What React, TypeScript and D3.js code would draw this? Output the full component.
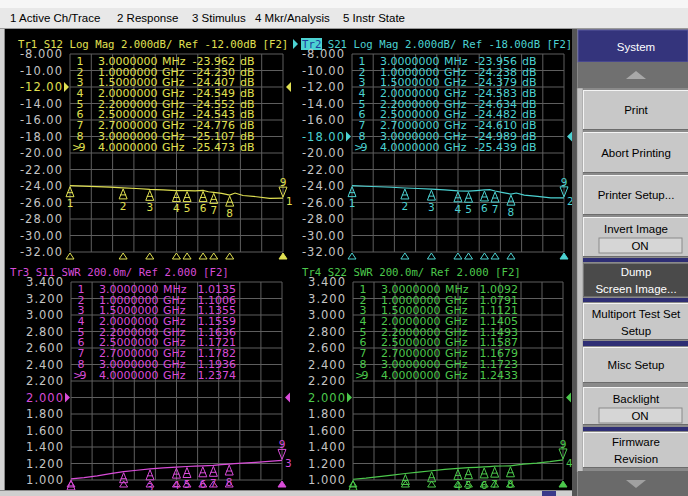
import * as d3 from "d3";
import { useEffect } from "react";

const W = 688;
const H = 496;

// menu bar
const menuItems = ["1 Active Ch/Trace", "2 Response", "3 Stimulus", "4 Mkr/Analysis", "5 Instr State"];

// markers (GHz) as listed in the marker tables
const markerFreq = [0.003, 1.0, 1.5, 2.0, 2.2, 2.5, 2.7, 3.0, 4.0];
const markerFreqText = ["3.0000000", "1.0000000", "1.5000000", "2.0000000", "2.2000000", "2.5000000", "2.7000000", "3.0000000", "4.0000000"];
const markerUnit = ["MHz", "GHz", "GHz", "GHz", "GHz", "GHz", "GHz", "GHz", "GHz"];

const tr1Markers = [-23.962, -24.23, -24.407, -24.549, -24.552, -24.543, -24.776, -25.107, -25.473];
const tr2Markers = [-23.956, -24.238, -24.379, -24.583, -24.634, -24.482, -24.61, -24.989, -25.439];
const tr3Markers = [1.0135, 1.1006, 1.1355, 1.1559, 1.1636, 1.1721, 1.1782, 1.1936, 1.2374];
const tr4Markers = [1.0092, 1.0791, 1.1121, 1.1405, 1.1493, 1.1587, 1.1679, 1.1723, 1.2433];
const tr1MarkerText = ["-23.962", "-24.230", "-24.407", "-24.549", "-24.552", "-24.543", "-24.776", "-25.107", "-25.473"];
const tr2MarkerText = ["-23.956", "-24.238", "-24.379", "-24.583", "-24.634", "-24.482", "-24.610", "-24.989", "-25.439"];
const tr3MarkerText = ["1.0135", "1.1006", "1.1355", "1.1559", "1.1636", "1.1721", "1.1782", "1.1936", "1.2374"];
const tr4MarkerText = ["1.0092", "1.0791", "1.1121", "1.1405", "1.1493", "1.1587", "1.1679", "1.1723", "1.2433"];

// sweep points (GHz)
const traceFreq = [0.003, 0.25, 0.5, 0.75, 1.0, 1.25, 1.5, 1.75, 2.0, 2.2, 2.35, 2.5, 2.6, 2.7, 2.85, 3.0, 3.1, 3.25, 3.5, 3.75, 4.0];
const tr1Trace = [-23.96, -24.02, -24.08, -24.14, -24.23, -24.3, -24.41, -24.47, -24.55, -24.55, -24.6, -24.54, -24.7, -24.78, -24.9, -25.11, -24.85, -25.15, -25.3, -25.5, -25.47];
const tr2Trace = [-23.96, -24.03, -24.09, -24.15, -24.24, -24.3, -24.38, -24.48, -24.58, -24.63, -24.55, -24.48, -24.45, -24.61, -24.8, -24.99, -24.85, -25.1, -25.25, -25.45, -25.44];
const tr3Trace = [1.0135, 1.028, 1.05, 1.077, 1.1006, 1.118, 1.1355, 1.146, 1.1559, 1.1636, 1.168, 1.1721, 1.175, 1.1782, 1.186, 1.1936, 1.198, 1.205, 1.214, 1.226, 1.2374];
const tr4Trace = [1.0092, 1.022, 1.04, 1.06, 1.0791, 1.096, 1.1121, 1.128, 1.1405, 1.1493, 1.154, 1.1587, 1.163, 1.1679, 1.17, 1.1723, 1.18, 1.192, 1.205, 1.222, 1.2433];

// y tick labels
const logMagTicks = ["-8.000", "-10.00", "-12.00", "-14.00", "-16.00", "-18.00", "-20.00", "-22.00", "-24.00", "-26.00", "-28.00", "-30.00", "-32.00"];
const swrTicks = ["3.400", "3.200", "3.000", "2.800", "2.600", "2.400", "2.200", "2.000", "1.800", "1.600", "1.400", "1.200", "1.000"];

// softkeys
const softkeyLabels = [["Print"], ["Abort Printing"], ["Printer Setup..."], ["Invert Image"], ["Dump", "Screen Image..."], ["Multiport Test Set", "Setup"], ["Misc Setup"], ["Backlight"], ["Firmware", "Revision"]];
const softkeyToggle = ["", "", "", "ON", "", "", "", "ON", ""];

const MONO = "'DejaVu Sans Mono', monospace";
const SANS = "'DejaVu Sans', sans-serif";
const UI = "'Liberation Sans', Arial, sans-serif";
const GRID = "#5e5e5e";
const LABEL = "#c4c4c4";

type PanelCfg = {
  L: number; R: number; T: number; B: number;
  color: string; trNum: string; title: string; titleX: number; active: boolean;
  ticks: string[]; refLabel: string; trace: number[]; markers: number[]; markerText: string[]; db: boolean;
};

function Panel({ c }: { c: PanelCfg }) {
  const vals = c.ticks.map(Number);
  const x = d3.scaleLinear().domain([markerFreq[0], markerFreq[8]]).range([c.L, c.R]);
  const y = d3.scaleLinear().domain([vals[vals.length - 1], vals[0]]).range([c.B, c.T]);
  const line = d3.line<number>().x((_, i) => x(traceFreq[i])).y((v) => y(v));
  const xGrid = d3.range(11).map((i) => c.L + ((c.R - c.L) * i) / 10);
  const refY = y(+c.refLabel);
  const titleY = c.T - 10;
  return (
    <g>
      {/* title */}
      {c.active ? (
        <g>
          <path d={`M${c.titleX - 9},${titleY - 5} L${c.titleX - 4},${titleY} L${c.titleX - 9},${titleY + 5} Z`} fill={c.color} />
          <rect x={c.titleX - 1} y={titleY - 6} width={21} height={12} fill={c.color} />
          <text x={c.titleX} y={titleY} dy="0.36em" fontFamily={MONO} fontSize={10.7}>
            <tspan fill="#1c3c9c">Tr{c.trNum}</tspan>
            <tspan fill={c.color}>{" " + c.title}</tspan>
          </text>
        </g>
      ) : (
        <text x={c.titleX} y={titleY} dy="0.36em" fontFamily={MONO} fontSize={10.7} fill={c.color}>
          {`Tr${c.trNum} ${c.title}`}
        </text>
      )}
      {/* grid */}
      {vals.map((v, i) => (
        <line key={"h" + i} x1={c.L} x2={c.R} y1={y(v)} y2={y(v)} stroke={GRID} strokeWidth={1} />
      ))}
      {xGrid.map((gx, i) => (
        <line key={"v" + i} x1={gx} x2={gx} y1={c.T} y2={c.B} stroke={GRID} strokeWidth={1} />
      ))}
      {/* y labels */}
      {c.ticks.map((t, i) => (
        <text key={"t" + i} x={c.L - 7} y={y(vals[i])} dy="0.36em" textAnchor="end" fontFamily={SANS} fontSize={11.5}
          letterSpacing={1} fill={t === c.refLabel ? c.color : LABEL}>{t}</text>
      ))}
      {/* reference arrows */}
      <path d={`M${c.L - 6},${refY - 5} L${c.L - 1},${refY} L${c.L - 6},${refY + 5} Z`} fill={c.color} />
      <path d={`M${c.R + 8},${refY - 5} L${c.R + 3},${refY} L${c.R + 8},${refY + 5} Z`} fill={c.color} />
      {/* marker table */}
      {markerFreqText.map((f, i) => {
        const ry = c.T + 7 + i * 10.7;
        return (
          <g key={"m" + i} fontFamily={SANS} fontSize={11} fill={c.color}>
            {i === 8 && <text x={c.L + 2} y={ry} dy="0.36em">{">"}</text>}
            <text x={c.L + (i === 8 ? 12 : 10)} y={ry} dy="0.36em" textAnchor="middle">{i + 1}</text>
            <text x={c.L + 28} y={ry} dy="0.36em">{f}</text>
            <text x={c.L + 92} y={ry} dy="0.36em">{markerUnit[i]}</text>
            <text x={c.L + 165} y={ry} dy="0.36em" textAnchor="end">{c.markerText[i]}</text>
            {c.db && <text x={c.L + 170} y={ry} dy="0.36em">dB</text>}
          </g>
        );
      })}
      {/* trace */}
      <path d={line(c.trace) ?? ""} fill="none" stroke={c.color} strokeWidth={1.2} />
      {/* markers on trace */}
      {c.markers.map((v, i) => {
        const mx = x(markerFreq[i]);
        const my = y(v);
        if (i === 8) {
          return (
            <g key={"k" + i}>
              <path d={`M${mx},${my - 1} L${mx - 4},${my - 11} L${mx + 4},${my - 11} Z`} fill="none" stroke={c.color} />
              <text x={mx} y={my - 16} dy="0.36em" textAnchor="middle" fontFamily={SANS} fontSize={10.5} fill={c.color}>9</text>
              <text x={mx + 3} y={my + 3} dy="0.36em" fontFamily={SANS} fontSize={10.5} fill={c.color}>{c.trNum}</text>
            </g>
          );
        }
        return (
          <g key={"k" + i}>
            <path d={`M${mx},${my + 1} L${mx - 4},${my + 11} L${mx + 4},${my + 11} Z`} fill="none" stroke={c.color} />
            <line x1={mx - 3} x2={mx + 3} y1={my + 7} y2={my + 7} stroke={c.color} />
            {my + 18 < H - 8 && (
              <text x={mx} y={my + 18} dy="0.36em" textAnchor="middle" fontFamily={SANS} fontSize={10.5} fill={c.color}>{i + 1}</text>
            )}
          </g>
        );
      })}
      {/* stimulus markers under the grid */}
      {markerFreq.map((f, i) => {
        const mx = x(f);
        return (
          <path key={"b" + i} d={`M${mx},${c.B + 1} L${mx - 4},${c.B + 7} L${mx + 4},${c.B + 7} Z`}
            fill={i === 8 ? c.color : "none"} stroke={c.color} />
        );
      })}
    </g>
  );
}

const panels: PanelCfg[] = [
  { L: 70, R: 283, T: 54, B: 252, color: "#e0e052", trNum: "1", title: "S12 Log Mag 2.000dB/ Ref -12.00dB [F2]", titleX: 18, active: false,
    ticks: logMagTicks, refLabel: "-12.00", trace: tr1Trace, markers: tr1Markers, markerText: tr1MarkerText, db: true },
  { L: 352, R: 564, T: 54, B: 252, color: "#4cd2d2", trNum: "2", title: "S21 Log Mag 2.000dB/ Ref -18.00dB [F2]", titleX: 302, active: true,
    ticks: logMagTicks, refLabel: "-18.00", trace: tr2Trace, markers: tr2Markers, markerText: tr2MarkerText, db: true },
  { L: 71, R: 282, T: 282, B: 480, color: "#d84cd8", trNum: "3", title: "S11 SWR 200.0m/ Ref 2.000 [F2]", titleX: 10, active: false,
    ticks: swrTicks, refLabel: "2.000", trace: tr3Trace, markers: tr3Markers, markerText: tr3MarkerText, db: false },
  { L: 353, R: 563, T: 282, B: 480, color: "#4cc84c", trNum: "4", title: "S22 SWR 200.0m/ Ref 2.000 [F2]", titleX: 302, active: false,
    ticks: swrTicks, refLabel: "2.000", trace: tr4Trace, markers: tr4Markers, markerText: tr4MarkerText, db: false },
];

function Softkeys() {
  const tops = [90, 132, 175, 217, 263, 303, 347, 387, 432];
  const bottoms = [130, 173, 215, 257, 297, 340, 383, 425, 468];
  const navySeps = [[258, 262], [298, 302], [341, 346], [427, 431]];
  const kx = 583;
  const kw = W - kx;
  const cx = 636;
  return (
    <g fontFamily={UI} fontSize={11.5}>
      <rect x={572} y={29} width={W - 572} height={H - 29} fill="#8a8a8a" />
      <rect x={572} y={29} width={5} height={H - 29} fill="#555" />
      <rect x={577} y={88} width={6} height={384} fill="#c4c4c4" stroke="#777" strokeWidth={0.5} />
      {/* header */}
      <rect x={578} y={30} width={W - 578} height={32} fill="#34347c" stroke="#5a5aa0" />
      <text x={cx} y={47} dy="0.35em" textAnchor="middle" fill="#fff">System</text>
      <rect x={578} y={62} width={W - 578} height={26} fill="#707070" />
      <path d={`M${cx - 10},79 L${cx},71 L${cx + 10},79 Z`} fill="#a8a8a8" />
      {navySeps.map(([a, b], i) => (
        <rect key={"n" + i} x={kx} y={a} width={kw} height={b - a} fill="#2e2e74" />
      ))}
      {softkeyLabels.map((lines, i) => {
        const t = tops[i];
        const b = bottoms[i];
        const dark = i === 4;
        const mid = (t + b) / 2;
        const tog = softkeyToggle[i];
        return (
          <g key={"s" + i}>
            <rect x={kx} y={t} width={kw} height={b - t} fill={dark ? "#4a4a4a" : "#c8c8c8"} />
            <line x1={kx} x2={W} y1={t + 0.5} y2={t + 0.5} stroke={dark ? "#777" : "#f4f4f4"} />
            <line x1={kx + 0.5} x2={kx + 0.5} y1={t} y2={b} stroke={dark ? "#777" : "#f4f4f4"} />
            <line x1={kx} x2={W} y1={b - 0.5} y2={b - 0.5} stroke="#6c6c6c" />
            {tog ? (
              <g>
                <text x={cx} y={t + 12} dy="0.35em" textAnchor="middle" fill="#000">{lines[0]}</text>
                <rect x={599} y={t + 21} width={83} height={15} fill="#d6d6d6" stroke="#8a8a8a" />
                <text x={640} y={t + 28.5} dy="0.35em" textAnchor="middle" fill="#000">{tog}</text>
              </g>
            ) : lines.length === 1 ? (
              <text x={cx} y={mid} dy="0.35em" textAnchor="middle" fill={dark ? "#fff" : "#000"}>{lines[0]}</text>
            ) : (
              lines.map((s, j) => (
                <text key={j} x={cx} y={mid - 8 + j * 17} dy="0.35em" textAnchor="middle" fill={dark ? "#fff" : "#000"}>{s}</text>
              ))
            )}
          </g>
        );
      })}
      <rect x={578} y={471} width={W - 578} height={H - 471} fill="#6a6a6a" />
      <path d={`M${cx - 10},480 L${cx},488 L${cx + 10},480 Z`} fill="#a0a0a0" />
    </g>
  );
}

export default function App() {
  useEffect(() => {
    document.body.style.margin = "0";
  }, []);
  const menuX = [10, 117, 192, 255, 343];
  return (
    <div style={{ position: "absolute", left: 0, top: 0 }}>
      <svg width={W} height={H} viewBox={`0 0 ${W} ${H}`} style={{ display: "block" }}>
        <rect x={0} y={0} width={W} height={H} fill="#d4d4d4" />
        {/* menu bar */}
        <rect x={0} y={0} width={W} height={8} fill="#f6f6f6" />
        <rect x={0} y={8} width={W} height={20} fill="#e8e8e8" />
        <line x1={0} x2={W} y1={28.5} y2={28.5} stroke="#9a9a9a" />
        {menuItems.map((m, i) => (
          <text key={m} x={menuX[i]} y={18} dy="0.35em" fontFamily={UI} fontSize={11.5} fill="#000">{m}</text>
        ))}
        {/* display */}
        <rect x={5} y={29} width={567} height={461} fill="#000" />
        <line x1={4.5} x2={4.5} y1={29} y2={490} stroke="#888" />
        {panels.map((p, i) => (
          <Panel key={i} c={p} />
        ))}
        {/* status strip */}
        <rect x={0} y={490} width={572} height={6} fill="#cfcfcf" />
        <line x1={0} x2={572} y1={490.5} y2={490.5} stroke="#8a8a8a" />
        <rect x={542} y={491} width={14} height={5} fill="#3a3a8a" />
        <Softkeys />
      </svg>
    </div>
  );
}
